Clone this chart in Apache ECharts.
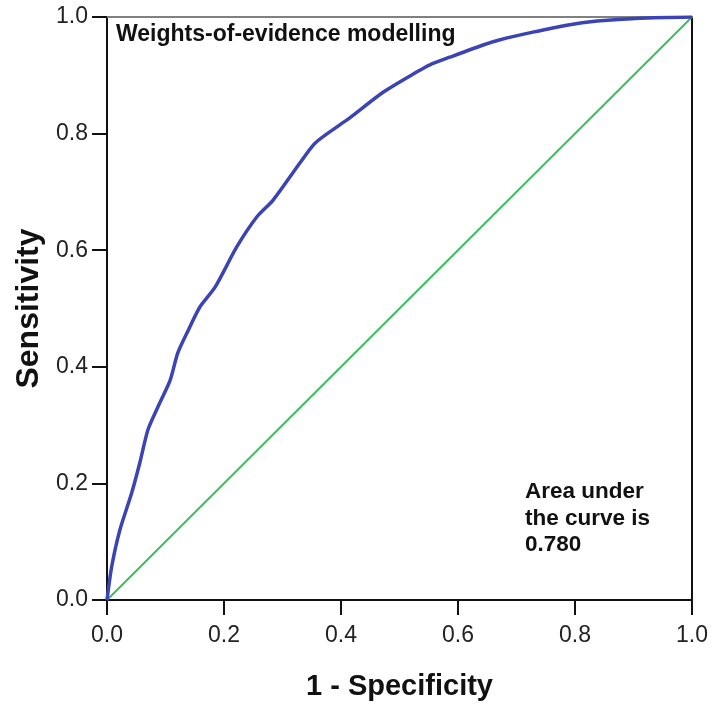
<!DOCTYPE html>
<html>
<head>
<meta charset="utf-8">
<script src="https://cdn.jsdelivr.net/npm/echarts@6/dist/echarts.min.js"></script>
<style>
  html, body { margin: 0; padding: 0; background: #fff; }
  #chart { width: 713px; height: 710px; }
</style>
</head>
<body>
<div id="chart"></div>
<script>
// ROC curve: [1 - specificity, sensitivity]
const rocX = [0, 0.008, 0.022, 0.042, 0.056, 0.070, 0.087, 0.108, 0.121, 0.140, 0.159, 0.185,
  0.222, 0.256, 0.284, 0.330, 0.356, 0.398, 0.415, 0.472, 0.530, 0.552, 0.586, 0.643,
  0.672, 0.728, 0.786, 0.838, 0.911, 1];
const rocY = [0, 0.057, 0.120, 0.183, 0.235, 0.292, 0.331, 0.377, 0.424, 0.465, 0.503, 0.537,
  0.606, 0.657, 0.686, 0.750, 0.784, 0.815, 0.827, 0.871, 0.906, 0.918, 0.931, 0.952,
  0.961, 0.974, 0.986, 0.993, 0.998, 1];
const refX = [0, 1];
const refY = [0, 1];

const chart = echarts.init(document.getElementById('chart'));
const font = 'Liberation Sans, Arial, sans-serif';
const fmt = v => v.toFixed(1);

chart.setOption({
  animation: false,
  backgroundColor: '#fff',
  grid: { left: 107, right: 21, top: 17, bottom: 110, outerBoundsMode: 'none', containLabel: false },
  xAxis: [{
    type: 'value', min: 0, max: 1, interval: 0.2,
    name: '1 - Specificity', nameLocation: 'middle', nameGap: 72,
    nameTextStyle: { fontFamily: font, fontWeight: 'bold', fontSize: 29, color: '#111' },
    axisLine: { onZero: false, lineStyle: { color: '#111', width: 2 } },
    axisTick: { length: 15, lineStyle: { color: '#111', width: 2 } },
    axisLabel: { fontFamily: font, fontSize: 23, color: '#222', margin: 24, formatter: fmt },
    splitLine: { show: false }
  }, {
    type: 'value', min: 0, max: 1, position: 'top',
    axisLine: { show: true, onZero: false, lineStyle: { color: '#808080', width: 2 } },
    axisTick: { show: false }, axisLabel: { show: false }, splitLine: { show: false }
  }],
  yAxis: [{
    type: 'value', min: 0, max: 1, interval: 0.2,
    name: 'Sensitivity', nameLocation: 'middle', nameGap: 62,
    nameTextStyle: { fontFamily: font, fontWeight: 'bold', fontSize: 32, color: '#111' },
    axisLine: { onZero: false, lineStyle: { color: '#111', width: 2 } },
    axisTick: { length: 15, lineStyle: { color: '#111', width: 2 } },
    axisLabel: { fontFamily: font, fontSize: 23, color: '#222', margin: 19, formatter: fmt },
    splitLine: { show: false }
  }, {
    type: 'value', min: 0, max: 1, position: 'right',
    axisLine: { show: true, onZero: false, lineStyle: { color: '#111', width: 2 } },
    axisTick: { show: false }, axisLabel: { show: false }, splitLine: { show: false }
  }],
  series: [{
    name: 'Reference', type: 'line', showSymbol: false, silent: true,
    data: refX.map((x, i) => [x, refY[i]]),
    lineStyle: { color: '#3cbf5c', width: 2 }
  }, {
    name: 'ROC', type: 'line', showSymbol: false, silent: true, smooth: 0.25,
    data: rocX.map((x, i) => [x, rocY[i]]),
    lineStyle: { color: '#3b44b4', width: 3.5 }
  }],
  graphic: [{
    type: 'text', left: 116, top: 23,
    style: { text: 'Weights-of-evidence modelling', font: 'bold 23px ' + font, fill: '#111' }
  }, {
    type: 'text', left: 525, top: 479,
    style: { text: 'Area under\nthe curve is\n0.780', font: 'bold 22.5px ' + font, fill: '#111', lineHeight: 26.5 }
  }]
});
</script>
</body>
</html>
